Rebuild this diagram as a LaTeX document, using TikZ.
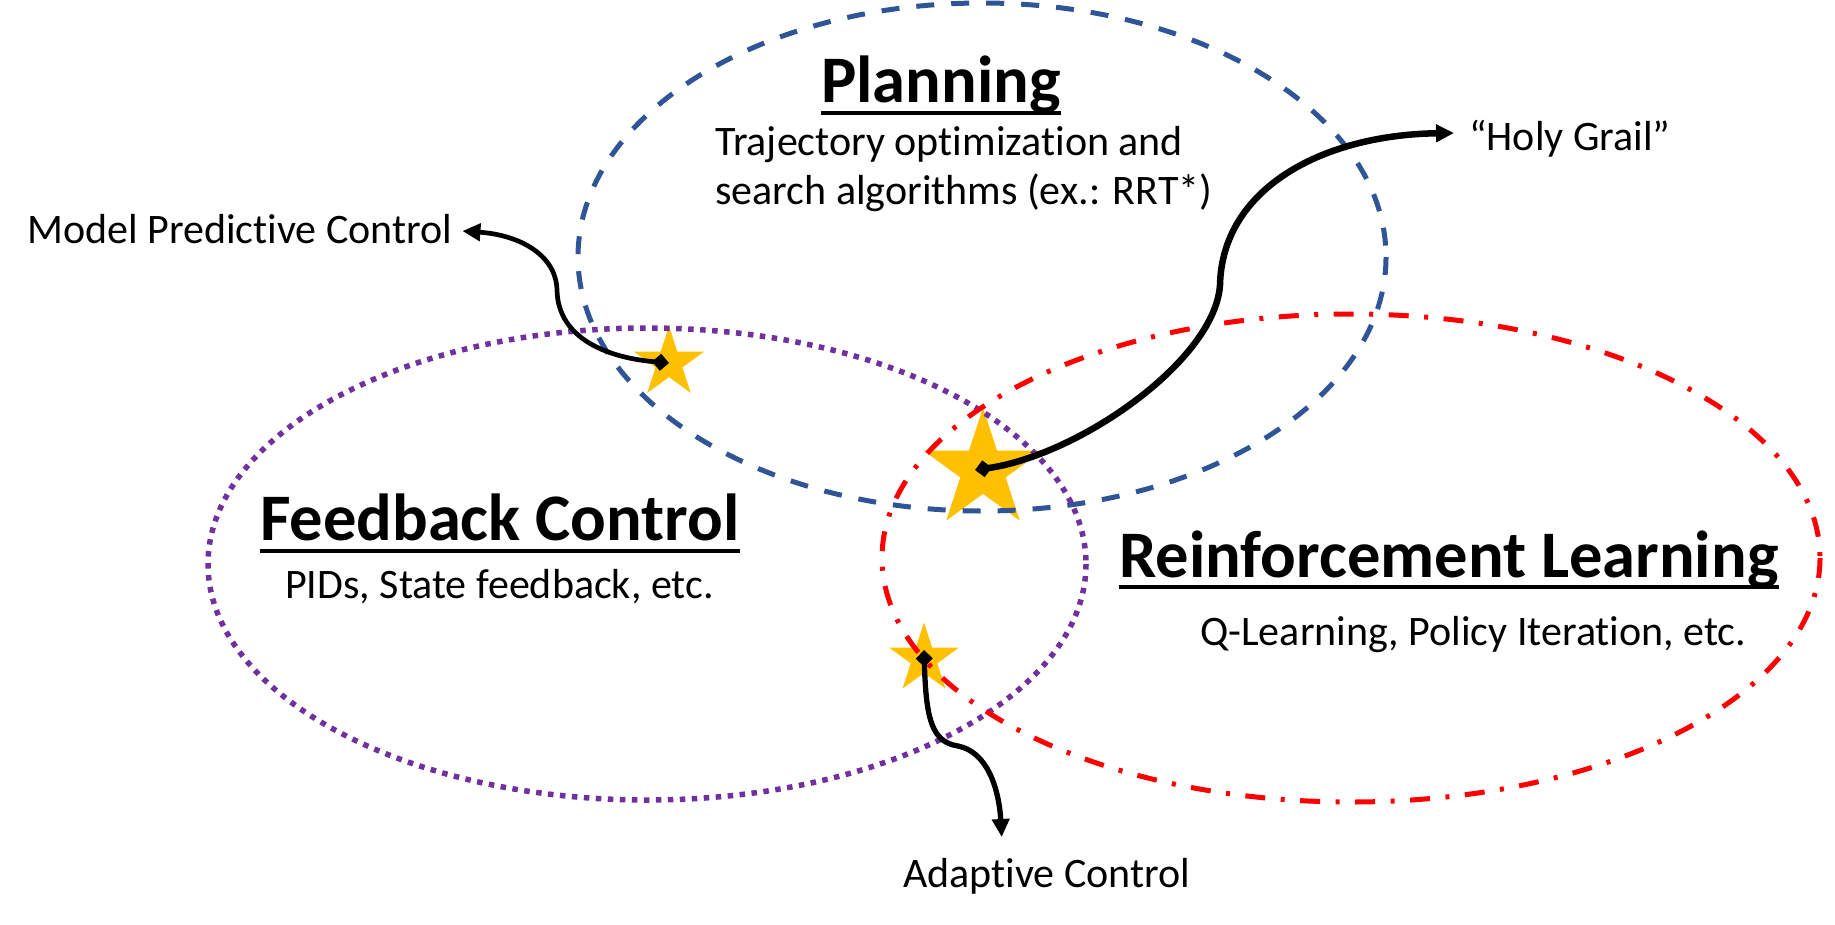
\documentclass[tikz,border=0pt]{standalone}
\usepackage{fontspec}
\setmainfont{Carlito}[Ligatures=NoCommon]
\usetikzlibrary{arrows.meta,positioning,calc,shapes.geometric}

\definecolor{planblue}{HTML}{2F5597}
\definecolor{fbpurple}{HTML}{7030A0}
\definecolor{rlred}{HTML}{FF0000}
\definecolor{stargold}{HTML}{FFC000}

\tikzset{
  heading/.style={font=\fontsize{66.5}{78}\selectfont\bfseries, inner sep=0pt},
  body/.style={font=\fontsize{42}{49}\selectfont, inner sep=0pt},
  goldstar/.style={star, star points=5, star point ratio=2.618, fill=stargold, draw=none, inner sep=0pt, minimum size=#1},
  callout/.style={line width=#1, {Diamond[length=17pt,width=17pt]}-{Triangle[length=18pt,width=17pt]}},
}

\begin{document}
\begin{tikzpicture}[x=1pt, y=-1pt]
    \useasboundingbox (0,0) rectangle (1835,924);
    % Stars
    \node[goldstar=74] (mpcstar) at (669,363) {};
    \node[goldstar=125] (grailstar) at (983,470) {};
    \node[goldstar=73] (adaptstar) at (924,659) {};
    % Planning
    \draw[planblue, line width=5pt, dash pattern=on 18pt off 17pt] (982,257) ellipse [x radius=404, y radius=254];
    % Feedback Control
    \draw[fbpurple, line width=5.5pt, dash pattern=on 5.5pt off 6.5pt] (647,564) ellipse [x radius=439, y radius=236];
    % Reinforcement Learning
    \draw[rlred, line width=5pt, dash pattern=on 20pt off 15.5pt on 4pt off 15.5pt] (1351,558) ellipse [x radius=469, y radius=244];
    % Headings
    \node[heading, anchor=base west] (plan) at (821,102) {Planning};
    \draw[line width=4pt] ($(plan.base west)+(0,11)$) -- ($(plan.base east)+(0,11)$);
    \node[body, anchor=north west, align=left] (plandesc) at (715,126) {Trajectory optimization and\\search algorithms (ex.: RRT*)};
    \node[heading, anchor=base west] (fb) at (260,540) {Feedback Control};
    \draw[line width=4pt] ($(fb.base west)+(0,11)$) -- ($(fb.base east)+(0,11)$);
    \node[body, anchor=base west] (fbdesc) at (285,598) {PIDs, State feedback, etc.};
    \node[heading, anchor=base west] (rl) at (1119,577) {Reinforcement Learning};
    \draw[line width=4pt] ($(rl.base west)+(0,10)$) -- ($(rl.base east)+(0,10)$);
    \node[body, anchor=base west] (rldesc) at (1200,645) {Q-Learning, Policy Iteration, etc.};
    % Callouts
    \node[body, anchor=base west] (mpc) at (27,243) {Model Predictive Control};
    \node[body, anchor=base west] (grail) at (1469,150) {“Holy Grail”};
    \node[body, anchor=base west] (adapt) at (903,887) {Adaptive Control};
    \draw[callout=4.7pt] (mpcstar.center) .. controls (610,358) and (558,340) .. (557,290)
        .. controls (556,255) and (520,235) .. ([xshift=10pt,yshift=12pt]mpc.base east);
    \draw[callout=6.5pt] ([xshift=-8pt]grailstar.center) .. controls (1080,455) and (1215,360) .. (1220,285)
        .. controls (1222,190) and (1320,135) .. ([xshift=-15pt,yshift=17pt]grail.base west);
    \draw[callout=5.3pt] ([yshift=9pt]adaptstar.center) .. controls (926,720) and (932,742) .. (958,746)
        .. controls (988,752) and (999,790) .. ([xshift=-45pt,yshift=50pt]adapt.base);
\end{tikzpicture}
\end{document}
